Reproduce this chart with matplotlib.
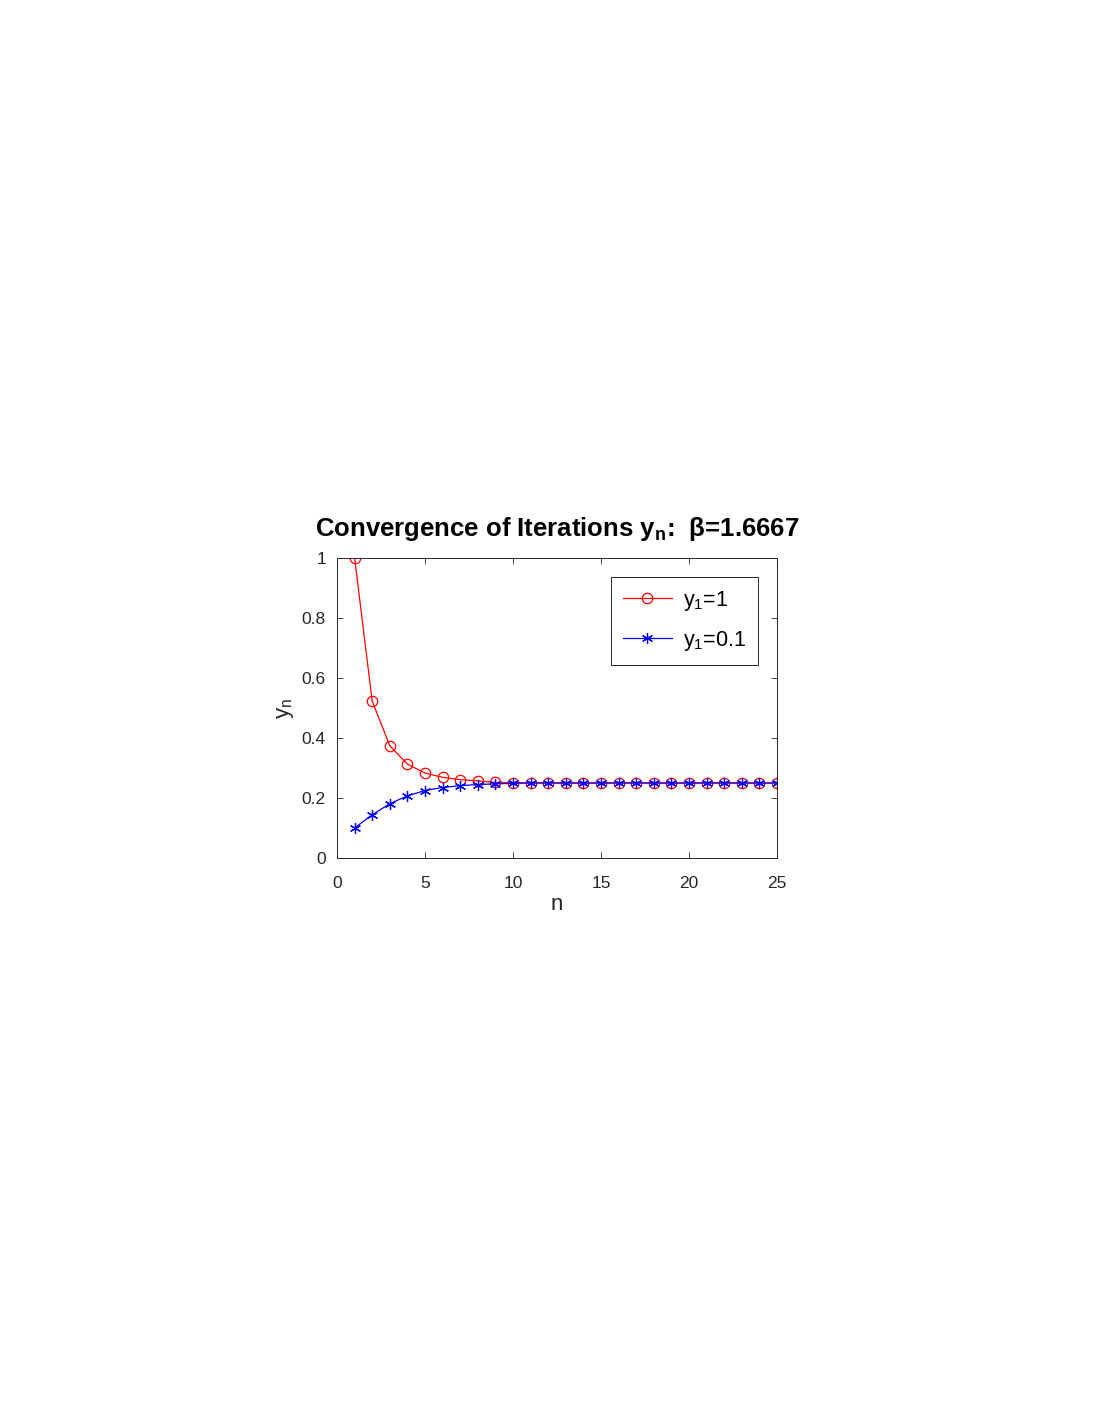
import matplotlib
matplotlib.use("Agg")
import matplotlib.pyplot as plt
import numpy as np

plt.rcParams['font.family'] = ['Liberation Sans', 'DejaVu Sans']
plt.rcParams['mathtext.default'] = 'regular'

n = list(range(1, 26))
y_start1 = [1.0, 0.523, 0.374, 0.313, 0.283, 0.269, 0.261, 0.257, 0.252, 0.251,
            0.25, 0.25, 0.25, 0.25, 0.25, 0.25, 0.25, 0.25, 0.25, 0.25,
            0.25, 0.25, 0.25, 0.25, 0.25]
y_start01 = [0.1, 0.144, 0.181, 0.207, 0.225, 0.235, 0.241, 0.245, 0.247, 0.249,
             0.25, 0.25, 0.25, 0.25, 0.25, 0.25, 0.25, 0.25, 0.25, 0.25,
             0.25, 0.25, 0.25, 0.25, 0.25]
labels = ['y$_1$=1', 'y$_1$=0.1']
xticks = [0, 5, 10, 15, 20, 25]
yticks = [0, 0.2, 0.4, 0.6, 0.8, 1]
yticklabels = ['0', '0.2', '0.4', '0.6', '0.8', '1']

fig = plt.figure(figsize=(10.98, 14.21), dpi=100)
ax = fig.add_axes([337/1098, 1-858/1421, 440/1098, 300/1421])

ax.plot(n, y_start1, color='red', lw=0.9, marker='o', ms=7.5, mfc='none',
        mec='red', mew=0.9, label=labels[0])
ax.plot(n, y_start01, color='blue', lw=0.9, marker=(6, 2, 0), ms=8,
        mec='blue', mew=0.9, label=labels[1])

ax.set_xlim(0, 25)
ax.set_ylim(0, 1)
ax.set_xticks(xticks)
ax.set_yticks(yticks)
ax.set_yticklabels(yticklabels)
ax.tick_params(direction='in', length=4, width=0.6, top=True, right=True,
               labelsize=12.5, colors='#262626')
ax.tick_params(axis='x', pad=13)
ax.tick_params(axis='y', pad=8)
for s in ax.spines.values():
    s.set_linewidth(0.7)
    s.set_color('#262626')

ax.set_xlabel('n', fontsize=16, color='#262626', labelpad=2)
ax.set_ylabel('y$_n$', fontsize=16, color='#262626', labelpad=4)
ax.set_title('Convergence of Iterations y$_n$:  β=1.6667', fontsize=18.5,
             fontweight='bold', pad=16)

leg = ax.legend(loc='upper right', bbox_to_anchor=(0.957, 0.937), fontsize=15.5,
                fancybox=False, edgecolor='#262626', framealpha=1,
                handlelength=2.3, borderpad=0.55, labelspacing=0.75,
                handletextpad=0.5, borderaxespad=0)
leg.get_frame().set_linewidth(0.7)

fig.savefig('out.png', dpi=100)
